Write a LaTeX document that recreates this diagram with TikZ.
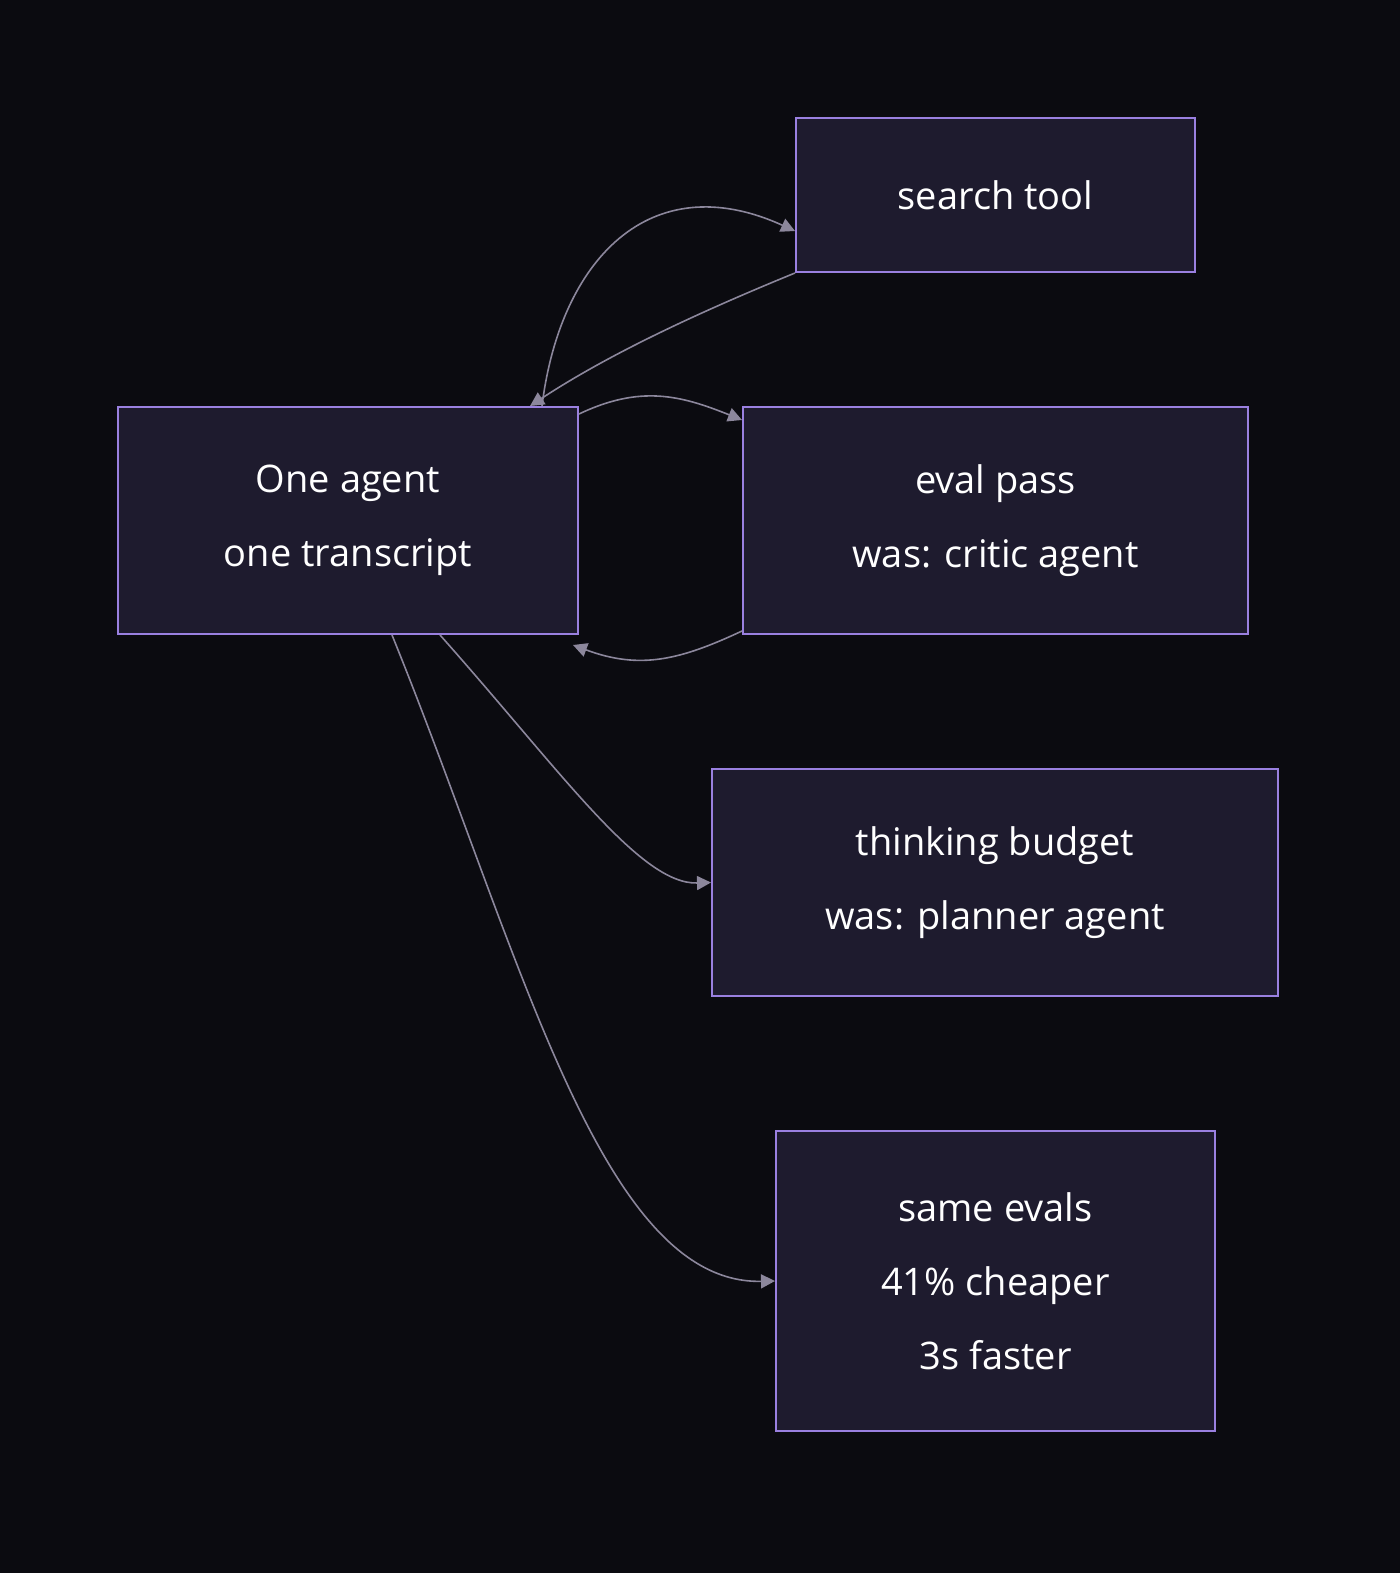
\documentclass[tikz,border=0pt]{standalone}
\usepackage{fontspec}
\setmainfont{Open Sans}
\usetikzlibrary{positioning, arrows.meta}
\definecolor{bgcol}{HTML}{0B0B10}
\definecolor{boxfill}{HTML}{1E1B2E}
\definecolor{boxline}{HTML}{9A80E0}
\definecolor{linkcol}{HTML}{8C879C}
\begin{document}
\begin{tikzpicture}[x=0.5pt, y=-0.5pt]
% Define styles
\tikzset{
  box/.style={rectangle, draw=boxline, fill=boxfill, line width=1pt, text=white,
    font=\fontsize{19}{37}\selectfont, align=center, inner sep=0pt},
  link/.style={-{Triangle[length=7pt,width=7pt]}, draw=linkcol, line width=0.8pt}
}
\fill[bgcol] (0,0) rectangle (1400,1573);
\useasboundingbox (0,0) rectangle (1400,1573);
% Define nodes
\node[box, minimum width=230pt, minimum height=113.5pt] (agent) at (348,520.5) {One agent\\one transcript};
\node[box, minimum width=199.5pt, minimum height=77pt] (search) at (995.5,195) {search tool};
\node[box, minimum width=252.5pt, minimum height=113.5pt] (eval) at (995.5,520.5) {eval pass\\was: critic agent};
\node[box, minimum width=283pt, minimum height=113.5pt] (think) at (995,882.5) {thinking budget\\was: planner agent};
\node[box, minimum width=219.5pt, minimum height=150pt] (same) at (995.5,1281) {same evals\\41\% cheaper\\3s faster};
% Relationships (arrows)
\draw[link] ([xshift=97pt]agent.north) .. controls (560,260) and (650,165) .. ([yshift=-18pt]search.west);
\draw[link] (search.south west) .. controls (680,320) and (600,360) .. ([xshift=91pt]agent.north);
\draw[link] ([yshift=-4pt]agent.north east) .. controls (640,385) and (680,395) .. ([yshift=-7pt]eval.north west);
\draw[link] ([yshift=2pt]eval.south west) .. controls (680,660) and (640,670) .. ([xshift=-3pt,yshift=-5pt]agent.south east);
\draw[link] ([xshift=46pt]agent.south) .. controls (560,770) and (640,885) .. (think.west);
\draw[link] ([xshift=22pt]agent.south) .. controls (520,950) and (600,1285) .. (same.west);
\end{tikzpicture}
\end{document}
